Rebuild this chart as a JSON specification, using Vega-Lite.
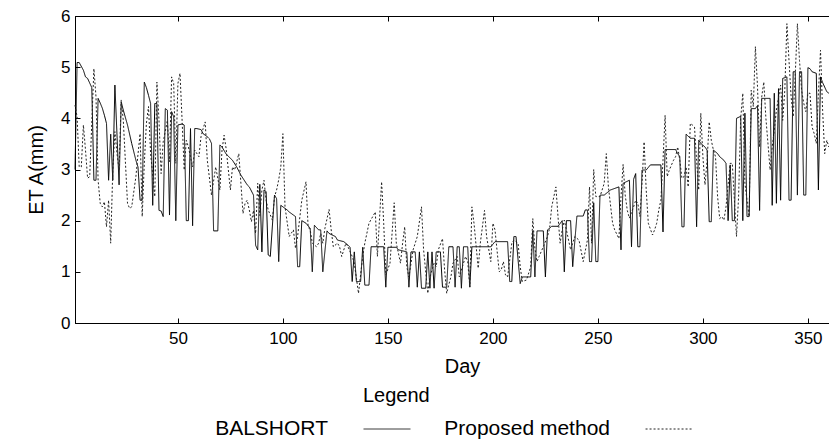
{
  "$schema": "https://vega.github.io/schema/vega-lite/v6.json",
  "width": 774,
  "height": 307,
  "autosize": {"type": "none"},
  "padding": {"left": 75, "top": 16, "right": 0, "bottom": 118},
  "background": "white",
  "datasets": {
    "bal": [
      {"day":1,"et":3.0},{"day":2,"et":5.09},{"day":3,"et":5.09},{"day":5,"et":4.94},{"day":6,"et":4.81},{"day":7,"et":4.78},{"day":9,"et":4.6},{"day":10,"et":2.79},{"day":11,"et":2.79},{"day":12,"et":4.39},{"day":13,"et":4.3},{"day":14,"et":4.2},{"day":15,"et":4.06},{"day":16,"et":3.9},{"day":17,"et":2.79},{"day":18,"et":3.69},{"day":19,"et":2.79},{"day":20,"et":4.65},{"day":22,"et":2.7},{"day":23,"et":4.32},{"day":24,"et":4.16},{"day":26,"et":3.87},{"day":28,"et":3.51},{"day":30,"et":3.18},{"day":31,"et":3.05},{"day":32,"et":2.4},{"day":33,"et":2.4},{"day":34,"et":4.71},{"day":35,"et":4.6},{"day":36,"et":4.45},{"day":37,"et":4.29},{"day":38,"et":2.3},{"day":39,"et":4.29},{"day":40,"et":4.29},{"day":41,"et":2.2},{"day":42,"et":2.19},{"day":43,"et":2.08},{"day":44,"et":4.19},{"day":45,"et":4.16},{"day":46,"et":2.11},{"day":47,"et":4.13},{"day":48,"et":4.03},{"day":49,"et":2.0},{"day":50,"et":3.87},{"day":52,"et":3.89},{"day":53,"et":3.87},{"day":54,"et":2.0},{"day":55,"et":2.0},{"day":56,"et":3.8},{"day":57,"et":1.9},{"day":58,"et":3.8},{"day":59,"et":3.8},{"day":61,"et":3.78},{"day":62,"et":3.7},{"day":64,"et":3.64},{"day":65,"et":3.6},{"day":66,"et":3.51},{"day":67,"et":1.8},{"day":69,"et":1.8},{"day":70,"et":3.48},{"day":71,"et":3.44},{"day":73,"et":3.3},{"day":76,"et":3.18},{"day":78,"et":3.05},{"day":80,"et":2.89},{"day":83,"et":2.7},{"day":84,"et":2.66},{"day":86,"et":2.5},{"day":87,"et":1.52},{"day":88,"et":1.43},{"day":89,"et":2.71},{"day":90,"et":1.39},{"day":91,"et":2.6},{"day":92,"et":2.57},{"day":93,"et":1.33},{"day":94,"et":1.3},{"day":96,"et":2.5},{"day":97,"et":2.43},{"day":98,"et":1.2},{"day":99,"et":2.3},{"day":102,"et":2.21},{"day":103,"et":2.17},{"day":105,"et":2.11},{"day":106,"et":2.08},{"day":107,"et":1.1},{"day":108,"et":1.1},{"day":109,"et":2.0},{"day":111,"et":1.95},{"day":113,"et":1.85},{"day":114,"et":1.0},{"day":115,"et":1.91},{"day":117,"et":1.82},{"day":118,"et":1.82},{"day":119,"et":1.0},{"day":121,"et":1.8},{"day":122,"et":1.75},{"day":125,"et":1.69},{"day":126,"et":1.62},{"day":129,"et":1.59},{"day":131,"et":1.52},{"day":132,"et":1.48},{"day":133,"et":0.81},{"day":134,"et":1.39},{"day":135,"et":0.81},{"day":137,"et":0.81},{"day":138,"et":1.48},{"day":139,"et":0.74},{"day":141,"et":0.74},{"day":142,"et":1.49},{"day":148,"et":1.49},{"day":149,"et":0.7},{"day":150,"et":1.48},{"day":154,"et":1.48},{"day":155,"et":1.43},{"day":159,"et":1.39},{"day":160,"et":0.7},{"day":161,"et":1.39},{"day":163,"et":1.39},{"day":164,"et":0.7},{"day":165,"et":1.39},{"day":166,"et":0.68},{"day":168,"et":0.68},{"day":169,"et":1.39},{"day":170,"et":0.68},{"day":171,"et":1.39},{"day":172,"et":0.68},{"day":173,"et":1.39},{"day":175,"et":1.39},{"day":176,"et":0.7},{"day":178,"et":0.7},{"day":179,"et":1.49},{"day":181,"et":1.49},{"day":182,"et":0.7},{"day":183,"et":1.49},{"day":184,"et":1.49},{"day":185,"et":0.68},{"day":186,"et":1.49},{"day":188,"et":1.49},{"day":189,"et":0.7},{"day":190,"et":1.49},{"day":199,"et":1.49},{"day":201,"et":1.59},{"day":207,"et":1.59},{"day":208,"et":0.81},{"day":209,"et":0.81},{"day":210,"et":1.69},{"day":211,"et":1.69},{"day":213,"et":0.77},{"day":214,"et":0.9},{"day":218,"et":0.9},{"day":219,"et":1.8},{"day":220,"et":0.9},{"day":221,"et":1.8},{"day":224,"et":1.8},{"day":225,"et":0.9},{"day":226,"et":1.82},{"day":227,"et":1.85},{"day":228,"et":1.89},{"day":231,"et":1.89},{"day":233,"et":2.0},{"day":234,"et":1.0},{"day":235,"et":2.0},{"day":237,"et":2.0},{"day":238,"et":1.1},{"day":240,"et":2.09},{"day":243,"et":2.09},{"day":244,"et":2.21},{"day":245,"et":2.21},{"day":246,"et":1.2},{"day":247,"et":1.2},{"day":248,"et":2.35},{"day":249,"et":1.2},{"day":250,"et":1.2},{"day":251,"et":2.5},{"day":253,"et":2.5},{"day":256,"et":2.6},{"day":260,"et":2.66},{"day":261,"et":1.43},{"day":262,"et":2.73},{"day":265,"et":2.79},{"day":266,"et":1.49},{"day":267,"et":2.81},{"day":268,"et":2.92},{"day":269,"et":1.49},{"day":270,"et":1.49},{"day":271,"et":2.99},{"day":273,"et":2.99},{"day":275,"et":3.09},{"day":280,"et":3.09},{"day":281,"et":1.78},{"day":282,"et":3.39},{"day":287,"et":3.39},{"day":288,"et":3.31},{"day":289,"et":3.25},{"day":290,"et":1.88},{"day":291,"et":1.88},{"day":292,"et":3.69},{"day":294,"et":3.61},{"day":296,"et":3.61},{"day":297,"et":1.88},{"day":298,"et":3.57},{"day":299,"et":3.51},{"day":301,"et":3.44},{"day":302,"et":3.38},{"day":303,"et":1.98},{"day":304,"et":1.98},{"day":305,"et":3.38},{"day":307,"et":3.31},{"day":308,"et":3.25},{"day":310,"et":3.18},{"day":311,"et":3.12},{"day":312,"et":2.0},{"day":313,"et":3.09},{"day":314,"et":2.0},{"day":315,"et":2.0},{"day":316,"et":4.0},{"day":318,"et":4.04},{"day":319,"et":2.0},{"day":320,"et":4.1},{"day":321,"et":2.08},{"day":322,"et":2.08},{"day":323,"et":4.19},{"day":325,"et":4.19},{"day":326,"et":4.25},{"day":327,"et":2.2},{"day":328,"et":4.39},{"day":332,"et":4.39},{"day":333,"et":2.3},{"day":334,"et":4.49},{"day":335,"et":2.34},{"day":336,"et":4.58},{"day":337,"et":2.4},{"day":338,"et":4.78},{"day":340,"et":4.81},{"day":341,"et":2.4},{"day":342,"et":2.4},{"day":343,"et":4.91},{"day":344,"et":4.91},{"day":345,"et":2.5},{"day":346,"et":4.91},{"day":347,"et":4.91},{"day":348,"et":2.5},{"day":349,"et":2.5},{"day":350,"et":4.99},{"day":351,"et":4.97},{"day":352,"et":4.91},{"day":354,"et":4.88},{"day":355,"et":2.6},{"day":356,"et":4.81},{"day":357,"et":4.7},{"day":359,"et":4.52},{"day":360,"et":4.49},{"day":361,"et":4.45}
    ],
    "prop": [
      {"day":1,"et":4.26},{"day":2,"et":4.03},{"day":3,"et":3.05},{"day":4,"et":3.05},{"day":5,"et":3.87},{"day":6,"et":3.38},{"day":7,"et":2.83},{"day":8,"et":2.86},{"day":10,"et":4.97},{"day":11,"et":4.42},{"day":12,"et":2.79},{"day":13,"et":2.34},{"day":14,"et":2.27},{"day":15,"et":2.37},{"day":16,"et":1.88},{"day":17,"et":2.4},{"day":18,"et":1.56},{"day":19,"et":2.99},{"day":20,"et":3.74},{"day":21,"et":3.31},{"day":22,"et":2.99},{"day":23,"et":4.36},{"day":24,"et":3.96},{"day":26,"et":2.34},{"day":27,"et":2.24},{"day":28,"et":2.27},{"day":30,"et":2.86},{"day":31,"et":3.3},{"day":32,"et":3.7},{"day":33,"et":2.08},{"day":34,"et":3.12},{"day":35,"et":3.9},{"day":36,"et":4.23},{"day":37,"et":3.31},{"day":39,"et":2.47},{"day":40,"et":4.71},{"day":41,"et":3.96},{"day":42,"et":2.92},{"day":43,"et":3.54},{"day":45,"et":3.96},{"day":46,"et":3.15},{"day":47,"et":4.81},{"day":48,"et":4.68},{"day":49,"et":3.12},{"day":50,"et":4.68},{"day":51,"et":4.88},{"day":52,"et":3.96},{"day":53,"et":2.99},{"day":54,"et":3.57},{"day":55,"et":3.44},{"day":57,"et":3.05},{"day":58,"et":3.38},{"day":60,"et":3.25},{"day":61,"et":3.64},{"day":62,"et":3.8},{"day":63,"et":3.93},{"day":64,"et":3.18},{"day":66,"et":2.5},{"day":68,"et":3.05},{"day":70,"et":2.6},{"day":71,"et":3.38},{"day":72,"et":3.67},{"day":73,"et":3.4},{"day":75,"et":2.6},{"day":76,"et":3.05},{"day":77,"et":2.99},{"day":79,"et":3.31},{"day":80,"et":2.73},{"day":81,"et":2.14},{"day":82,"et":2.34},{"day":83,"et":2.4},{"day":84,"et":2.21},{"day":85,"et":1.98},{"day":86,"et":2.2},{"day":87,"et":1.75},{"day":88,"et":2.73},{"day":89,"et":2.1},{"day":90,"et":2.6},{"day":91,"et":2.79},{"day":92,"et":2.4},{"day":93,"et":2.21},{"day":95,"et":2.01},{"day":96,"et":2.47},{"day":97,"et":2.6},{"day":98,"et":2.8},{"day":99,"et":3.05},{"day":100,"et":3.7},{"day":101,"et":2.27},{"day":103,"et":1.69},{"day":105,"et":1.82},{"day":106,"et":1.46},{"day":107,"et":1.69},{"day":109,"et":2.4},{"day":111,"et":2.76},{"day":112,"et":1.88},{"day":113,"et":1.82},{"day":114,"et":1.56},{"day":116,"et":1.49},{"day":117,"et":1.56},{"day":118,"et":1.75},{"day":119,"et":1.56},{"day":120,"et":1.85},{"day":122,"et":2.22},{"day":123,"et":1.82},{"day":124,"et":1.49},{"day":126,"et":1.56},{"day":127,"et":1.49},{"day":128,"et":1.3},{"day":130,"et":1.56},{"day":131,"et":1.49},{"day":133,"et":1.3},{"day":134,"et":1.17},{"day":136,"et":0.58},{"day":138,"et":1.3},{"day":139,"et":1.56},{"day":141,"et":1.95},{"day":144,"et":2.17},{"day":145,"et":1.3},{"day":147,"et":2.76},{"day":148,"et":1.95},{"day":149,"et":0.94},{"day":151,"et":1.17},{"day":153,"et":2.35},{"day":154,"et":1.56},{"day":156,"et":1.17},{"day":157,"et":1.56},{"day":158,"et":1.88},{"day":159,"et":1.1},{"day":160,"et":0.9},{"day":162,"et":1.43},{"day":164,"et":1.69},{"day":166,"et":2.27},{"day":167,"et":1.43},{"day":169,"et":0.58},{"day":170,"et":0.9},{"day":172,"et":1.17},{"day":173,"et":1.1},{"day":174,"et":1.43},{"day":176,"et":1.65},{"day":177,"et":1.04},{"day":178,"et":0.58},{"day":179,"et":0.75},{"day":180,"et":0.9},{"day":181,"et":1.17},{"day":183,"et":1.3},{"day":184,"et":0.9},{"day":186,"et":1.17},{"day":187,"et":1.3},{"day":188,"et":1.2},{"day":189,"et":0.71},{"day":190,"et":2.27},{"day":191,"et":1.95},{"day":193,"et":1.07},{"day":194,"et":1.56},{"day":196,"et":2.2},{"day":197,"et":1.69},{"day":199,"et":1.2},{"day":200,"et":1.95},{"day":201,"et":1.82},{"day":203,"et":1.0},{"day":204,"et":1.04},{"day":205,"et":1.2},{"day":206,"et":0.94},{"day":207,"et":0.9},{"day":209,"et":1.56},{"day":210,"et":1.62},{"day":212,"et":1.56},{"day":213,"et":1.1},{"day":214,"et":0.81},{"day":216,"et":0.84},{"day":218,"et":1.1},{"day":219,"et":2.04},{"day":220,"et":1.46},{"day":221,"et":1.2},{"day":222,"et":1.3},{"day":224,"et":1.49},{"day":226,"et":1.69},{"day":227,"et":1.85},{"day":228,"et":2.27},{"day":230,"et":2.66},{"day":231,"et":2.08},{"day":232,"et":1.56},{"day":233,"et":1.82},{"day":234,"et":2.01},{"day":235,"et":1.82},{"day":237,"et":1.43},{"day":239,"et":1.69},{"day":241,"et":1.62},{"day":243,"et":1.2},{"day":245,"et":1.62},{"day":246,"et":2.66},{"day":247,"et":1.56},{"day":248,"et":3.0},{"day":249,"et":2.47},{"day":251,"et":2.47},{"day":253,"et":2.73},{"day":254,"et":3.31},{"day":255,"et":2.66},{"day":257,"et":1.95},{"day":258,"et":1.82},{"day":260,"et":1.65},{"day":261,"et":2.47},{"day":262,"et":3.1},{"day":263,"et":2.5},{"day":264,"et":2.2},{"day":265,"et":2.05},{"day":267,"et":2.27},{"day":268,"et":2.4},{"day":269,"et":2.34},{"day":270,"et":2.08},{"day":271,"et":2.73},{"day":272,"et":3.54},{"day":273,"et":2.6},{"day":274,"et":1.95},{"day":276,"et":1.72},{"day":277,"et":1.82},{"day":278,"et":1.95},{"day":279,"et":2.21},{"day":280,"et":2.4},{"day":281,"et":3.18},{"day":282,"et":4.06},{"day":283,"et":2.86},{"day":284,"et":2.99},{"day":286,"et":3.18},{"day":287,"et":3.25},{"day":288,"et":3.44},{"day":289,"et":3.18},{"day":290,"et":2.83},{"day":291,"et":2.86},{"day":292,"et":3.05},{"day":293,"et":2.66},{"day":294,"et":3.9},{"day":295,"et":3.87},{"day":296,"et":3.83},{"day":297,"et":3.18},{"day":298,"et":2.6},{"day":299,"et":4.1},{"day":300,"et":3.25},{"day":301,"et":2.7},{"day":302,"et":3.18},{"day":303,"et":3.93},{"day":304,"et":3.57},{"day":305,"et":3.38},{"day":306,"et":3.25},{"day":307,"et":2.47},{"day":308,"et":2.04},{"day":309,"et":2.08},{"day":310,"et":2.01},{"day":311,"et":2.27},{"day":312,"et":2.7},{"day":313,"et":3.12},{"day":314,"et":3.12},{"day":315,"et":2.4},{"day":316,"et":1.69},{"day":317,"et":2.47},{"day":318,"et":4.0},{"day":319,"et":4.49},{"day":320,"et":2.73},{"day":321,"et":2.4},{"day":322,"et":2.08},{"day":323,"et":4.55},{"day":324,"et":4.23},{"day":325,"et":5.4},{"day":326,"et":4.62},{"day":327,"et":3.44},{"day":328,"et":4.42},{"day":329,"et":4.71},{"day":330,"et":4.0},{"day":331,"et":3.5},{"day":332,"et":2.99},{"day":333,"et":3.44},{"day":334,"et":3.77},{"day":335,"et":4.16},{"day":336,"et":4.4},{"day":337,"et":4.65},{"day":338,"et":3.96},{"day":339,"et":4.55},{"day":340,"et":5.85},{"day":341,"et":5.13},{"day":342,"et":4.42},{"day":343,"et":4.03},{"day":344,"et":4.88},{"day":345,"et":5.85},{"day":346,"et":5.13},{"day":347,"et":4.55},{"day":348,"et":4.3},{"day":349,"et":4.13},{"day":350,"et":4.49},{"day":351,"et":4.49},{"day":352,"et":3.83},{"day":353,"et":3.7},{"day":354,"et":3.51},{"day":355,"et":4.49},{"day":356,"et":5.33},{"day":357,"et":4.16},{"day":358,"et":3.31},{"day":359,"et":3.57},{"day":360,"et":3.44},{"day":361,"et":3.7}
    ]
  },
  "config": {
    "font": "Liberation Sans",
    "view": {"stroke": "#000", "strokeWidth": 1},
    "axis": {
      "grid": false,
      "domainColor": "#000",
      "domainWidth": 1,
      "tickColor": "#000",
      "labelColor": "#000",
      "titleColor": "#000",
      "labelFont": "Liberation Sans",
      "titleFont": "Liberation Sans",
      "labelFontSize": 17,
      "titleFontSize": 20,
      "titleFontWeight": "normal"
    }
  },
  "layer": [
    {
      "data": {"name": "bal"},
      "mark": {"type": "line", "color": "#000", "strokeWidth": 1},
      "encoding": {
        "x": {
          "field": "day", "type": "quantitative",
          "scale": {"domain": [1, 369.57], "nice": false, "zero": false},
          "axis": {"orient": "bottom", "values": [50, 100, 150, 200, 250, 300, 350], "title": "Day", "tickSize": -5, "labelPadding": 12, "titlePadding": 10, "labelFlush": false}
        },
        "y": {
          "field": "et", "type": "quantitative",
          "scale": {"domain": [0, 6], "nice": false},
          "axis": {"values": [0, 1, 2, 3, 4, 5, 6], "title": "ET A(mm)", "tickSize": -5, "labelPadding": 10, "titlePadding": 14}
        },
        "strokeDash": {
          "datum": "BALSHORT", "type": "nominal",
          "scale": {"domain": ["BALSHORT", "Proposed method"], "range": [[1, 0], [2, 2]]},
          "legend": {
            "title": "Legend",
            "orient": "none",
            "legendX": 288,
            "legendY": 370,
            "direction": "horizontal",
            "titleOrient": "top",
            "titleAnchor": "start",
            "titleFontSize": 20,
            "titleFontWeight": "normal",
            "titleColor": "#000",
            "titlePadding": -1,
            "labelFontSize": 21,
            "labelColor": "#000",
            "labelLimit": 300,
            "labelAlign": "right",
            "labelOffset": -83,
            "symbolType": "stroke",
            "symbolSize": 2200,
            "symbolStrokeWidth": 1,
            "symbolStrokeColor": "#000",
            "columnPadding": 31
          }
        }
      }
    },
    {
      "data": {"name": "prop"},
      "mark": {"type": "line", "color": "#222", "strokeWidth": 1},
      "encoding": {
        "x": {
          "field": "day", "type": "quantitative",
          "axis": {"orient": "top", "values": [50, 100, 150, 200, 250, 300, 350], "labels": false, "title": null, "tickSize": -5}
        },
        "y": {
          "field": "et", "type": "quantitative",
          "axis": {"values": [0, 1, 2, 3, 4, 5, 6], "title": "ET A(mm)", "tickSize": -5, "labelPadding": 10, "titlePadding": 14}
        },
        "strokeDash": {"datum": "Proposed method", "type": "nominal"}
      }
    }
  ],
  "resolve": {"axis": {"x": "independent"}}
}
